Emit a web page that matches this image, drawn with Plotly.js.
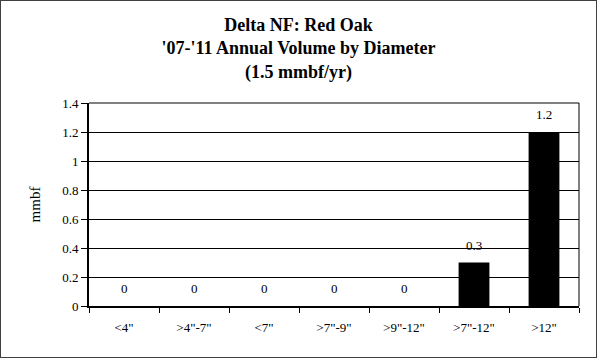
<!DOCTYPE html>
<html><head><meta charset="utf-8">
<script src="https://cdn.plot.ly/plotly-3.0.1.min.js"></script>
<style>
html,body{margin:0;padding:0;background:#fff;}
#chart{width:595px;height:356px;border:1px solid #404040;}
</style></head>
<body>
<div id="chart"></div>
<script>
const categories = ['<4"', '>4"-7"', '<7"', '>7"-9"', '>9"-12"', '>7"-12"', '>12"'];
const values = [0, 0, 0, 0, 0, 0.3, 1.2];
const valueLabels = ['0', '0', '0', '0', '0', '0.3', '1.2'];
const yTicks = [0, 0.2, 0.4, 0.6, 0.8, 1, 1.2, 1.4];
const yTickLabels = ['0', '0.2', '0.4', '0.6', '0.8', '1', '1.2', '1.4'];

const FONT = 'Liberation Serif, Times New Roman, serif';

const trace = {
  type: 'bar',
  x: categories,
  y: values,
  marker: {color: '#000000', line: {width: 0}},
  hoverinfo: 'none'
};

const annotations = categories.map((c, i) => ({
  x: c, y: values[i], xref: 'x', yref: 'y',
  text: valueLabels[i], showarrow: false,
  yanchor: 'bottom', yshift: 8,
  font: {family: FONT, size: 13, color: '#000000'}
}));

const layout = {
  template: {},
  font: {family: FONT, size: 13, color: '#000000'},
  width: 595, height: 356,
  margin: {l: 88, r: 17, t: 102, b: 51},
  paper_bgcolor: '#fff', plot_bgcolor: '#fff',
  showlegend: false,
  bargap: 0.56,
  title: {
    text: "Delta NF: Red Oak<br>'07-'11 Annual Volume by Diameter<br>(1.5 mmbf/yr)",
    font: {family: FONT, size: 18, color: '#000000', weight: 'bold'},
    x: 0.5, xanchor: 'center',
    yref: 'container', y: 1 - 30/356, yanchor: 'top'
  },
  xaxis: {
    type: 'category',
    tickfont: {family: FONT, size: 13, color: '#000000'},
    showline: true, linecolor: '#000', linewidth: 2,
    mirror: false,
    ticks: 'outside', ticklen: 5, tickcolor: '#000', tickwidth: 1,
    tickson: 'boundaries',
    ticklabelstandoff: 8,
    showgrid: false, zeroline: false, fixedrange: true
  },
  yaxis: {
    range: [0, 1.4],
    tickvals: yTicks, ticktext: yTickLabels,
    tickfont: {family: FONT, size: 13, color: '#000000'},
    showline: true, linecolor: '#000', linewidth: 2,
    ticks: 'outside', ticklen: 6, tickcolor: '#000', tickwidth: 1,
    showgrid: true, gridcolor: '#000', gridwidth: 1,
    zeroline: false, fixedrange: true,
    title: {text: 'mmbf', font: {family: FONT, size: 15, color: '#000000'}, standoff: 18}
  },
  annotations: annotations,
  shapes: [
    {type: 'line', xref: 'paper', yref: 'paper', x0: 1, x1: 1, y0: 0, y1: 1, line: {color: '#000', width: 1}},
    {type: 'line', xref: 'paper', yref: 'paper', x0: 0, x1: 1, y0: 1, y1: 1, line: {color: '#000', width: 1}}
  ]
};

Plotly.newPlot('chart', [trace], layout, {displayModeBar: false, staticPlot: true});
</script>
</body></html>
